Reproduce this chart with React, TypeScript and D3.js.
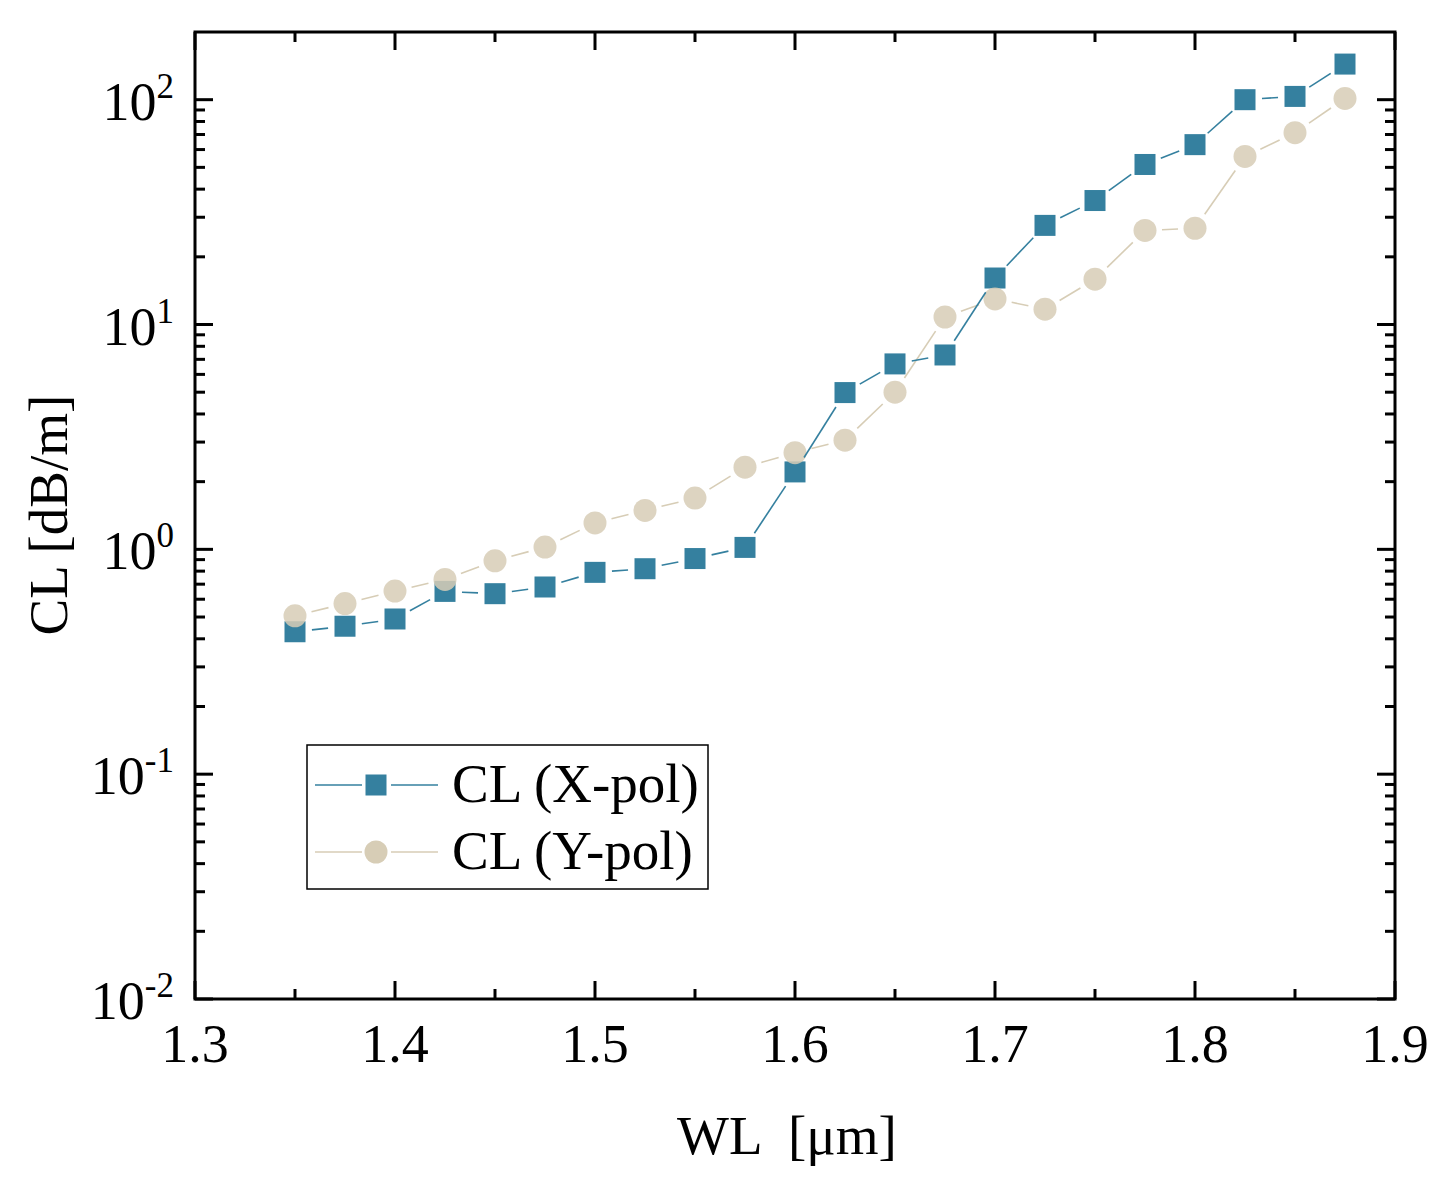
import { useRef, useEffect } from 'react';
import * as d3 from 'd3';

// wavelength [um]
const wavelengths = [
  1.35, 1.375, 1.4, 1.425, 1.45, 1.475, 1.5, 1.525, 1.55, 1.575, 1.6,
  1.625, 1.65, 1.675, 1.7, 1.725, 1.75, 1.775, 1.8, 1.825, 1.85, 1.875,
];

// confinement loss [dB/m]
const clXPol = [
  0.43, 0.455, 0.49, 0.65, 0.635, 0.68, 0.79, 0.82, 0.91, 1.02, 2.21,
  4.98, 6.68, 7.32, 16.1, 27.6, 35.6, 51.5, 63.1, 100, 103.4, 144,
];
const clYPol = [
  0.506, 0.574, 0.652, 0.735, 0.889, 1.023, 1.31, 1.49, 1.69, 2.32, 2.69,
  3.06, 5.0, 10.8, 13.0, 11.7, 15.9, 26.2, 26.8, 55.9, 71.3, 101.3,
];

const xTicks = [1.3, 1.4, 1.5, 1.6, 1.7, 1.8, 1.9];
const xMinorTicks = [1.35, 1.45, 1.55, 1.65, 1.75, 1.85];
const yExponents = [-2, -1, 0, 1, 2];

const seriesNames = ['CL (X-pol)', 'CL (Y-pol)'];
const COLOR_X = '#35809f';
const COLOR_Y = '#d7cdb6';
const FONT = '"Liberation Serif", "Times New Roman", serif';
const FS = 54;

export default function App() {
  const svgRef = useRef<SVGSVGElement>(null);

  useEffect(() => {
    document.body.style.margin = '0';
    if (!svgRef.current) return;
    const svg = d3.select(svgRef.current);
    svg.selectAll('*').remove();

    const width = 1445;
    const height = 1191;
    const margin = { top: 32, right: 50, bottom: 192, left: 195 };
    const innerW = width - margin.left - margin.right;
    const innerH = height - margin.top - margin.bottom;

    svg.attr('width', width).attr('height', height);
    svg.append('rect').attr('width', width).attr('height', height).attr('fill', '#fff');

    const x = d3.scaleLinear().domain([1.3, 1.9]).range([0, innerW]);
    const y = d3.scaleLog().domain([0.01, 200]).range([innerH, 0]);

    const g = svg.append('g').attr('transform', `translate(${margin.left},${margin.top})`);

    const points = (vals: number[]) => wavelengths.map((w, i) => [x(w), y(vals[i])] as [number, number]);

    // line segments with gaps around the symbols
    const gap = 17;
    const drawGappedLine = (pts: [number, number][], color: string) => {
      for (let i = 0; i < pts.length - 1; i++) {
        const [x0, y0] = pts[i];
        const [x1, y1] = pts[i + 1];
        const len = Math.hypot(x1 - x0, y1 - y0);
        if (len <= 2 * gap) continue;
        const ux = (x1 - x0) / len;
        const uy = (y1 - y0) / len;
        g.append('line')
          .attr('x1', x0 + ux * gap)
          .attr('y1', y0 + uy * gap)
          .attr('x2', x1 - ux * gap)
          .attr('y2', y1 - uy * gap)
          .attr('stroke', color)
          .attr('stroke-width', 1.6);
      }
    };

    const ptsX = points(clXPol);
    const ptsY = points(clYPol);
    const sq = 21;

    g.selectAll('.sq')
      .data(ptsX)
      .enter()
      .append('rect')
      .attr('x', (d) => d[0] - sq / 2)
      .attr('y', (d) => d[1] - sq / 2)
      .attr('width', sq)
      .attr('height', sq)
      .attr('fill', COLOR_X);

    g.selectAll('.ci')
      .data(ptsY)
      .enter()
      .append('circle')
      .attr('cx', (d) => d[0])
      .attr('cy', (d) => d[1])
      .attr('r', 11.5)
      .attr('fill', COLOR_Y)
      .attr('fill-opacity', 0.85);

    drawGappedLine(ptsY, COLOR_Y);
    drawGappedLine(ptsX, COLOR_X);

    // frame
    g.append('rect')
      .attr('width', innerW)
      .attr('height', innerH)
      .attr('fill', 'none')
      .attr('stroke', '#000')
      .attr('stroke-width', 3);

    const major = 18;
    const minor = 10;
    const tickLine = (x1: number, y1: number, x2: number, y2: number) =>
      g.append('line')
        .attr('x1', x1).attr('y1', y1).attr('x2', x2).attr('y2', y2)
        .attr('stroke', '#000').attr('stroke-width', 3);

    // x ticks (inward, bottom and top)
    xTicks.forEach((t) => {
      tickLine(x(t), innerH, x(t), innerH - major);
      tickLine(x(t), 0, x(t), major);
      g.append('text')
        .attr('x', x(t))
        .attr('y', innerH + 63)
        .attr('text-anchor', 'middle')
        .attr('font-family', FONT)
        .attr('font-size', FS)
        .text(t.toFixed(1));
    });
    xMinorTicks.forEach((t) => {
      tickLine(x(t), innerH, x(t), innerH - minor);
      tickLine(x(t), 0, x(t), minor);
    });

    // y ticks (log, inward, left and right)
    yExponents.forEach((e) => {
      const v = Math.pow(10, e);
      tickLine(0, y(v), major, y(v));
      tickLine(innerW, y(v), innerW - major, y(v));
      const label = g.append('text')
        .attr('x', -21)
        .attr('y', y(v) + 20)
        .attr('text-anchor', 'end')
        .attr('font-family', FONT)
        .attr('font-size', FS);
      label.append('tspan').text('10');
      label.append('tspan').attr('dy', -22).attr('font-size', 35).text(String(e));
      for (let m = 2; m <= 9; m++) {
        const mv = m * v;
        if (mv >= 200) continue;
        tickLine(0, y(mv), minor, y(mv));
        tickLine(innerW, y(mv), innerW - minor, y(mv));
      }
    });

    // axis titles
    svg.append('text')
      .attr('x', 787)
      .attr('y', 1154)
      .attr('text-anchor', 'middle')
      .attr('font-family', FONT)
      .attr('font-size', FS + 1)
      .style('white-space', 'pre')
      .text('WL  [\u03bcm]');

    svg.append('text')
      .attr('transform', `translate(67,515) rotate(-90)`)
      .attr('text-anchor', 'middle')
      .attr('font-family', FONT)
      .attr('font-size', FS + 1)
      .text('CL [dB/m]');

    // legend
    const lg = svg.append('g');
    lg.append('rect')
      .attr('x', 307)
      .attr('y', 745)
      .attr('width', 401)
      .attr('height', 144)
      .attr('fill', '#fff')
      .attr('stroke', '#000')
      .attr('stroke-width', 1.5);

    const rows = [
      { name: seriesNames[0], color: COLOR_X, cy: 785, shape: 'square' },
      { name: seriesNames[1], color: COLOR_Y, cy: 852, shape: 'circle' },
    ];
    rows.forEach((r) => {
      lg.append('line').attr('x1', 315).attr('x2', 362).attr('y1', r.cy).attr('y2', r.cy)
        .attr('stroke', r.color).attr('stroke-width', 1.6);
      lg.append('line').attr('x1', 391).attr('x2', 438).attr('y1', r.cy).attr('y2', r.cy)
        .attr('stroke', r.color).attr('stroke-width', 1.6);
      if (r.shape === 'square') {
        lg.append('rect').attr('x', 376 - sq / 2).attr('y', r.cy - sq / 2)
          .attr('width', sq).attr('height', sq).attr('fill', r.color);
      } else {
        lg.append('circle').attr('cx', 376).attr('cy', r.cy).attr('r', 11.5).attr('fill', r.color);
      }
      lg.append('text')
        .attr('x', 452)
        .attr('y', r.cy + 17)
        .attr('font-family', FONT)
        .attr('font-size', FS + 1)
        .text(r.name);
    });
  }, []);

  return <svg ref={svgRef} style={{ display: 'block' }} />;
}
